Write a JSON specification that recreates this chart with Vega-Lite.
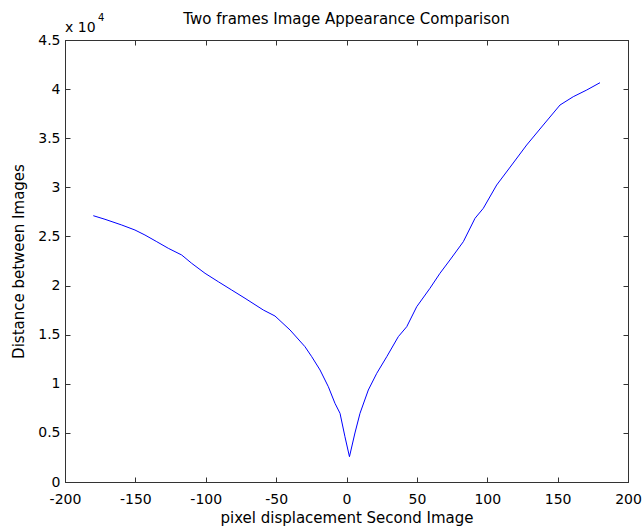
{
  "$schema": "https://vega.github.io/schema/vega-lite/v6.json",
  "width": 563,
  "height": 442,
  "autosize": {"type": "none"},
  "padding": {"left": 65, "top": 40, "right": 14, "bottom": 44},
  "background": "white",
  "title": {"text": "Two frames Image Appearance Comparison", "fontSize": 15, "fontWeight": "normal", "font": "DejaVu Sans", "color": "#000", "anchor": "middle", "offset": -14},
  "config": {
    "view": {"stroke": "#333", "strokeWidth": 1},
    "font": "DejaVu Sans",
    "axis": {
      "domainColor": "#333", "tickColor": "#333", "tickSize": -5, "grid": false,
      "labelFont": "DejaVu Sans", "labelFontSize": 14, "labelColor": "#000",
      "titleFont": "DejaVu Sans", "titleFontSize": 15, "titleFontWeight": "normal", "titleColor": "#000"
    }
  },
  "data": {"values": [
    {"x": -179.9, "y": 27112}, {"x": -171.6, "y": 26746}, {"x": -159.7, "y": 26165}, {"x": -150.3, "y": 25656},
    {"x": -143.2, "y": 25147}, {"x": -134.8, "y": 24465}, {"x": -126.6, "y": 23793}, {"x": -117.1, "y": 23111},
    {"x": -110.0, "y": 22266}, {"x": -100.5, "y": 21248}, {"x": -91.1, "y": 20393}, {"x": -81.6, "y": 19548},
    {"x": -72.1, "y": 18703}, {"x": -59.1, "y": 17511}, {"x": -50.8, "y": 16900}, {"x": -40.1, "y": 15475},
    {"x": -29.5, "y": 13775}, {"x": -24.7, "y": 12757}, {"x": -18.8, "y": 11403}, {"x": -12.9, "y": 9703},
    {"x": -8.2, "y": 8012}, {"x": -4.6, "y": 6994}, {"x": -1.1, "y": 4612}, {"x": 2.1, "y": 2576},
    {"x": 6.0, "y": 4989}, {"x": 9.6, "y": 6994}, {"x": 15.5, "y": 9367}, {"x": 21.5, "y": 11067},
    {"x": 28.6, "y": 12757}, {"x": 36.8, "y": 14793}, {"x": 42.8, "y": 15811}, {"x": 49.9, "y": 17847},
    {"x": 59.3, "y": 19721}, {"x": 66.4, "y": 21248}, {"x": 73.5, "y": 22602}, {"x": 83.0, "y": 24465},
    {"x": 91.3, "y": 26847}, {"x": 97.2, "y": 27865}, {"x": 106.7, "y": 30237}, {"x": 117.4, "y": 32274},
    {"x": 128.0, "y": 34310}, {"x": 139.8, "y": 36346}, {"x": 151.7, "y": 38382}, {"x": 161.1, "y": 39227},
    {"x": 170.7, "y": 39910}, {"x": 180.1, "y": 40653}
  ]},
  "layer": [
    {
      "mark": {"type": "line", "color": "#0000ff", "strokeWidth": 1},
      "encoding": {
        "x": {"field": "x", "type": "quantitative", "scale": {"domain": [-200, 200], "nice": false, "zero": false},
              "axis": {"title": "pixel displacement Second Image", "values": [-200, -150, -100, -50, 0, 50, 100, 150, 200], "labelExpr": "toString(datum.value)", "labelPadding": 15, "titlePadding": 4, "labelFlush": false}},
        "y": {"field": "y", "type": "quantitative", "scale": {"domain": [0, 45000], "nice": false},
              "axis": {"title": "Distance between Images", "values": [0, 5000, 10000, 15000, 20000, 25000, 30000, 35000, 40000, 45000], "labelExpr": "toString(datum.value/10000)", "labelPadding": 10, "titlePadding": 11, "labelFlush": false}}
      }
    },
    {
      "mark": {"type": "line", "opacity": 0},
      "encoding": {
        "x": {"field": "x", "type": "quantitative", "scale": {"domain": [-200, 200], "nice": false, "zero": false},
              "axis": {"orient": "top", "title": null, "labels": false, "values": [-200, -150, -100, -50, 0, 50, 100, 150, 200]}},
        "y": {"field": "y", "type": "quantitative", "scale": {"domain": [0, 45000], "nice": false},
              "axis": {"orient": "right", "title": null, "labels": false, "values": [0, 5000, 10000, 15000, 20000, 25000, 30000, 35000, 40000, 45000]}}
      }
    },
    {
      "data": {"values": [{"x": -200, "y": 45000, "t": "x 10"}]},
      "mark": {"type": "text", "align": "left", "baseline": "alphabetic", "dx": 0, "dy": -8, "fontSize": 14, "color": "#000"},
      "encoding": {
        "x": {"field": "x", "type": "quantitative", "scale": {"domain": [-200, 200], "nice": false, "zero": false}, "axis": null},
        "y": {"field": "y", "type": "quantitative", "scale": {"domain": [0, 45000], "nice": false}, "axis": null},
        "text": {"field": "t"}
      }
    },
    {
      "data": {"values": [{"x": -200, "y": 45000, "t": "4"}]},
      "mark": {"type": "text", "align": "left", "baseline": "alphabetic", "dx": 33, "dy": -19, "fontSize": 10, "color": "#000"},
      "encoding": {
        "x": {"field": "x", "type": "quantitative", "scale": {"domain": [-200, 200], "nice": false, "zero": false}, "axis": null},
        "y": {"field": "y", "type": "quantitative", "scale": {"domain": [0, 45000], "nice": false}, "axis": null},
        "text": {"field": "t"}
      }
    }
  ],
  "resolve": {"axis": {"x": "independent", "y": "independent"}}
}
